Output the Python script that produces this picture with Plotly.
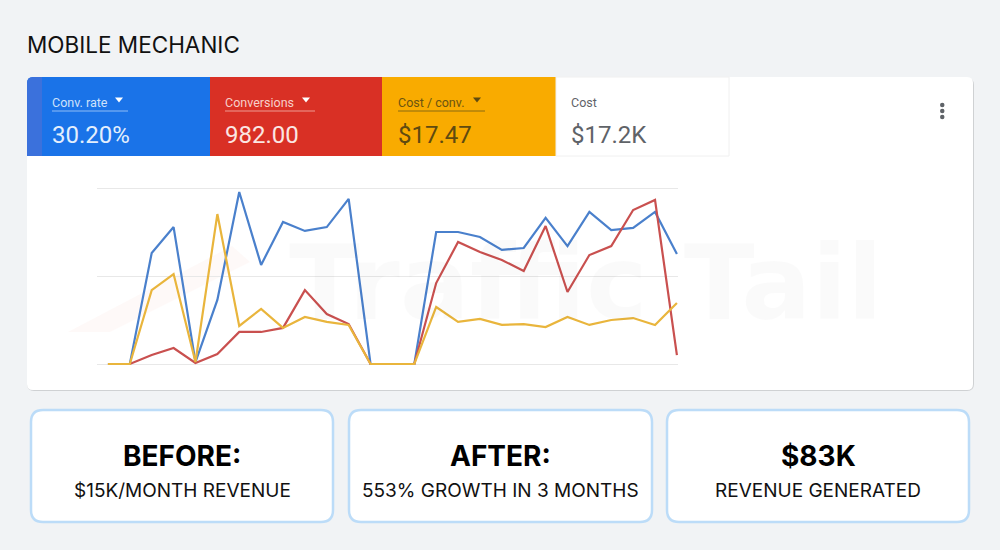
import plotly.graph_objects as go

# Chart values (share of the chart height)
days = list(range(27))
conv_rate = [0, 0, 63.1, 77.8, 1.1, 36.4, 97.7, 56.3, 80.7, 75.6, 77.8, 93.8, 0, 0, 0,
             75, 75, 72.2, 64.8, 65.9, 83, 67, 86.4, 76.1, 77.3, 86.4, 62.5]
conversions = [0, 0, 5.1, 9.1, 0.6, 5.7, 18.2, 18.2, 20.5, 42, 28.4, 22.7, 0, 0, 0,
               46, 69.3, 63.6, 59.1, 52.8, 78.4, 40.9, 61.9, 67, 87.5, 93.2, 5.1]
cost_per_conv = [0, 0, 42, 51.1, 1.1, 85.2, 21.6, 31.3, 20.5, 26.7, 23.9, 22.2, 0, 0, 0,
                 32.4, 23.9, 25.6, 22.2, 22.7, 21, 26.7, 22.2, 25, 26.1, 22.2, 34.7]

tile_names = ["Conv. rate", "Conversions", "Cost / conv.", "Cost"]
tile_values = ["30.20%", "982.00", "$17.47", "$17.2K"]
box_heads = ["BEFORE:", "AFTER:", "$83K"]
box_subs = ["$15K/MONTH REVENUE", "553% GROWTH IN 3 MONTHS", "REVENUE GENERATED"]

W, H = 1000, 550
# plot box is a little larger than the 0-100 span so the edge gridlines and lines are not clipped
L, R, T, B = 97, 678, 184, 368


# page pixels to paper coordinates
def px(x):
    return (x - L) / (R - L)


def py(y):
    return (B - y) / (B - T)


def round_rect(x0, y0, x1, y1, r=(0, 0, 0, 0)):
    tl, tr, br, bl = r
    return (
        f"M {px(x0 + tl)} {py(y0)} L {px(x1 - tr)} {py(y0)} "
        f"Q {px(x1)} {py(y0)} {px(x1)} {py(y0 + tr)} L {px(x1)} {py(y1 - br)} "
        f"Q {px(x1)} {py(y1)} {px(x1 - br)} {py(y1)} L {px(x0 + bl)} {py(y1)} "
        f"Q {px(x0)} {py(y1)} {px(x0)} {py(y1 - bl)} L {px(x0)} {py(y0 + tl)} "
        f"Q {px(x0)} {py(y0)} {px(x0 + tl)} {py(y0)} Z"
    )


def panel(x0, y0, x1, y1, fill, line="rgba(0,0,0,0)", width=0, r=(0, 0, 0, 0)):
    return dict(type="path", xref="paper", yref="paper", layer="below",
                path=round_rect(x0, y0, x1, y1, r), fillcolor=fill,
                line=dict(color=line, width=width))


def label(x, y, text, size, color, font="Roboto", anchor="left"):
    return dict(xref="paper", yref="paper", x=px(x), y=py(y), text=text, showarrow=False,
                xanchor=anchor, yanchor="middle", align=anchor,
                font=dict(family=font, size=size, color=color))


shapes = [
    panel(27, 78, 974, 391, "#cfd1d3", r=(7, 7, 7, 7)),
    panel(27, 77, 973, 390, "#ffffff", r=(6, 6, 6, 6)),
    panel(27, 77, 210, 156, "#1a73e8", r=(6, 0, 0, 0)),
    panel(27, 77, 42, 156, "#3b71dc", r=(6, 0, 0, 0)),
    panel(210, 77, 382, 156, "#d93025"),
    panel(382, 77, 556, 156, "#f9ab00"),
    panel(556, 77, 729, 156, "#ffffff", line="#f0f0f0", width=1),
    # faint logo swoosh of the watermark
    dict(type="path", xref="paper", yref="paper", layer="below",
         path=f"M {px(68)} {py(332)} L {px(232)} {py(246)} L {px(250)} {py(262)} L {px(110)} {py(332)} Z",
         fillcolor="rgba(235,90,50,0.035)", line=dict(width=0)),
]

# underlines and dropdown arrows of the three selected tiles
tile_x = [52, 225, 398]
under_end = [128, 315, 485]
arrow_x = [119, 306, 477]
under_col = ["#8fbdf5", "#ee9a92", "#8a6a10"]
arrow_col = ["#ffffff", "#ffffff", "#5f4a10"]
for x, xe, ax, uc, ac in zip(tile_x, under_end, arrow_x, under_col, arrow_col):
    shapes.append(dict(type="line", xref="paper", yref="paper", layer="below",
                       x0=px(x), x1=px(xe), y0=py(111), y1=py(111),
                       line=dict(color=uc, width=1)))
    shapes.append(dict(type="path", xref="paper", yref="paper", layer="below",
                       path=f"M {px(ax - 4)} {py(97.5)} L {px(ax + 4)} {py(97.5)} L {px(ax)} {py(102.5)} Z",
                       fillcolor=ac, line=dict(width=0)))

# three dots menu
for dot_y in [105, 111, 117]:
    shapes.append(dict(type="circle", xref="paper", yref="paper", layer="below",
                       x0=px(940), x1=px(944.5), y0=py(dot_y - 2.2), y1=py(dot_y + 2.2),
                       fillcolor="#5f6368", line=dict(width=0)))

# three boxes below the card
box_x = [(31, 333), (349, 652), (667, 969)]
for x0, x1 in box_x:
    shapes.append(panel(x0, 410, x1, 522, "#ffffff", line="#bcdcf8", width=2.5, r=(12, 12, 12, 12)))

annotations = [label(25, 44, "MOBILE MECHANIC", 22.5, "#111111", font="Inter")]
name_col = ["#cfe2fb", "#f7cfca", "#6b5410", "#5f6368"]
value_col = ["#e4effd", "#fbe6e3", "#5f4a10", "#5f6368"]
for x, name, value, nc, vc in zip([50, 223, 396, 569], tile_names, tile_values, name_col, value_col):
    annotations.append(label(x, 102, name, 12.5, nc))
    annotations.append(label(x, 135, value, 24, vc))
for (x0, x1), head, sub in zip(box_x, box_heads, box_subs):
    mid = (x0 + x1) / 2
    annotations.append(label(mid, 456, f"<b>{head}</b>", 28, "#000000", font="Inter", anchor="center"))
    annotations.append(label(mid, 490, sub, 19, "#111111", font="Inter", anchor="center"))
annotations.append(label(586, 283, "<b>Traffic Tail</b>", 104, "rgba(0,0,0,0.02)", font="DejaVu Sans", anchor="center"))

fig = go.Figure()
fig.add_trace(go.Scatter(x=days, y=conv_rate, mode="lines", name="Conv. rate",
                         line=dict(color="#4a80cc", width=2.2)))
fig.add_trace(go.Scatter(x=days, y=conversions, mode="lines", name="Conversions",
                         line=dict(color="#c9504f", width=2.2)))
fig.add_trace(go.Scatter(x=days, y=cost_per_conv, mode="lines", name="Cost / conv.",
                         line=dict(color="#e9b53c", width=2.2)))

fig.update_layout(
    width=W,
    height=H,
    autosize=False,
    showlegend=False,
    paper_bgcolor="#f1f3f5",
    plot_bgcolor="rgba(0,0,0,0)",
    margin=dict(l=L, r=W - R, t=T, b=H - B, pad=0, autoexpand=False),
    shapes=shapes,
    annotations=annotations,
)
fig.update_xaxes(range=[-0.5, 26.05], visible=False)
fig.update_yaxes(range=[-2.27, 102.27], tickvals=[0, 50, 100], showticklabels=False, ticks="",
                 showgrid=True, gridcolor="#e8e8e8", gridwidth=1, zeroline=False, showline=False)

fig.write_html("out.html", config=dict(displayModeBar=False),
               post_script="document.body.style.margin='0';")
